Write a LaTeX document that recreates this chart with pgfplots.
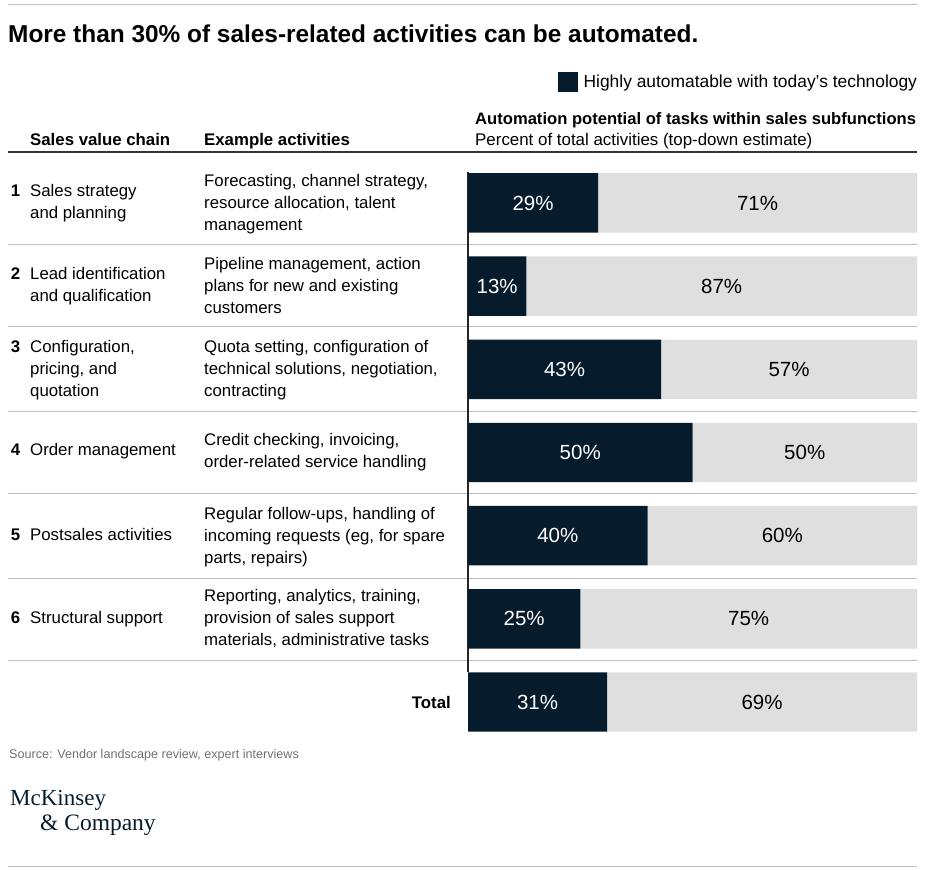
\documentclass[border=0pt]{standalone}
\usepackage{pgfplots}
\pgfplotsset{compat=1.18}
\usepackage{pgfplotstable}
\usepackage{fontspec}
\setmainfont{Liberation Sans}
\newfontfamily\logofont{Liberation Serif}

\definecolor{navy}{HTML}{061C2C}
\definecolor{bargray}{HTML}{DFDFDF}
\definecolor{rulegray}{HTML}{BDBDBD}
\definecolor{srcgray}{HTML}{707070}

% share of activities per subfunction, rows counted from the bottom (0 = total)
\pgfplotstableread{
row auto rest
6 29 71
5 13 87
4 43 57
3 50 50
2 40 60
1 25 75
0 31 69
}\shares

\newcommand{\body}{\fontsize{16.8}{22}\selectfont}
\newcommand{\num}[1]{\makebox[12pt][r]{\bfseries #1}\hspace{10pt}}

\begin{document}
\begin{tikzpicture}
\begin{scope}[x=1pt,y=-1pt]
  \path (0,0) rectangle (927,870);
  \draw[rulegray, line width=1pt] (8,4) -- (917,4);
  \node[anchor=base west, inner sep=0, font=\fontsize{24.4}{28}\selectfont\bfseries]
    at (8,42) {More than 30\% of sales-related activities can be automated.};

  % column heads
  \node[anchor=base west, inner sep=0, font=\body\bfseries] at (30,145) {Sales value chain};
  \node[anchor=base west, inner sep=0, font=\body\bfseries] at (204,145) {Example activities};
  \node[anchor=base west, inner sep=0, font=\fontsize{16.6}{22}\selectfont\bfseries] at (475,124) {Automation potential of tasks within sales subfunctions};
  \node[anchor=base west, inner sep=0, font=\fontsize{16.9}{22}\selectfont] at (475,145) {Percent of total activities (top-down estimate)};
  \draw[black!80, line width=1.5pt] (8,152) -- (917,152);

  % row rules
  \foreach \yy in {244,326,411,493,578,660}
    \draw[rulegray, line width=1pt] (8,\yy) -- (917,\yy);
  \draw[black!85, line width=1.2pt] (468,172) -- (468,672);

  % sales value chain
  \node[anchor=west, inner sep=0, font=\body] at (8,203)
    {\begin{tabular}{@{}l@{}l@{}}\num{1} & Sales strategy\\ & and planning\end{tabular}};
  \node[anchor=west, inner sep=0, font=\body] at (8,286.5)
    {\begin{tabular}{@{}l@{}l@{}}\num{2} & Lead identification\\ & and qualification\end{tabular}};
  \node[anchor=west, inner sep=0, font=\body] at (8,370.5)
    {\begin{tabular}{@{}l@{}l@{}}\num{3} & Configuration,\\ & pricing, and\\ & quotation\end{tabular}};
  \node[anchor=west, inner sep=0, font=\body] at (8,451)
    {\begin{tabular}{@{}l@{}l@{}}\num{4} & Order management\end{tabular}};
  \node[anchor=west, inner sep=0, font=\body] at (8,536.5)
    {\begin{tabular}{@{}l@{}l@{}}\num{5} & Postsales activities\end{tabular}};
  \node[anchor=west, inner sep=0, font=\body] at (8,619)
    {\begin{tabular}{@{}l@{}l@{}}\num{6} & Structural support\end{tabular}};

  % example activities
  \node[anchor=west, inner sep=0, font=\body] at (204,204.5)
    {\begin{tabular}{@{}l@{}}Forecasting, channel strategy,\\ resource allocation, talent\\ management\end{tabular}};
  \node[anchor=west, inner sep=0, font=\body] at (204,287.5)
    {\begin{tabular}{@{}l@{}}Pipeline management, action\\ plans for new and existing\\ customers\end{tabular}};
  \node[anchor=west, inner sep=0, font=\body] at (204,370.5)
    {\begin{tabular}{@{}l@{}}Quota setting, configuration of\\ technical solutions, negotiation,\\ contracting\end{tabular}};
  \node[anchor=west, inner sep=0, font=\body] at (204,452)
    {\begin{tabular}{@{}l@{}}Credit checking, invoicing,\\ order-related service handling\end{tabular}};
  \node[anchor=west, inner sep=0, font=\body] at (204,537)
    {\begin{tabular}{@{}l@{}}Regular follow-ups, handling of\\ incoming requests (eg, for spare\\ parts, repairs)\end{tabular}};
  \node[anchor=west, inner sep=0, font=\body] at (204,619.5)
    {\begin{tabular}{@{}l@{}}Reporting, analytics, training,\\ provision of sales support\\ materials, administrative tasks\end{tabular}};

  \node[anchor=east, inner sep=0, font=\body\bfseries] at (451,702) {Total};

  % footer
  \node[anchor=base west, inner sep=0, font=\fontsize{12.6}{15}\selectfont, text=srcgray]
    at (9,758) {Source: Vendor landscape review, expert interviews};
  \node[anchor=base west, inner sep=0, font=\logofont\fontsize{23}{25}\selectfont, text=navy]
    at (10,805) {McKinsey};
  \node[anchor=base west, inner sep=0, font=\logofont\fontsize{23.5}{25}\selectfont, text=navy]
    at (40,830) {\& Company};
  \draw[rulegray, line width=1pt] (8,866) -- (917,866);
\end{scope}

\begin{axis}[
  at={(468pt,-732pt)}, anchor=south west,
  scale only axis, width=449pt, height=560pt,
  xbar stacked, bar width=0.715,
  xmin=0, xmax=100, ymin=-0.3607, ymax=6.3725,
  hide axis, clip=false,
  point meta=explicit,
  nodes near coords={\pgfmathprintnumber[assume math mode=true]{\pgfplotspointmeta}\%},
  every node near coord/.append style={anchor=center, font=\fontsize{20.5}{22}\selectfont},
  legend style={draw=none, fill=none, at={(1,1.1607)}, anchor=east,
    inner sep=0pt, outer sep=0pt, font=\fontsize{17.4}{22}\selectfont, nodes={inner sep=0pt}},
]
\addplot[fill=navy, draw=none, nodes near coords style={text=white},
  legend image code/.code={\fill[navy] (0pt,-10pt) rectangle (20pt,10pt); \path (26pt,0pt);}]
  table[x=auto, y=row, meta=auto] {\shares};
\addlegendentry{Highly automatable with today’s technology}
\addplot[fill=bargray, draw=none, nodes near coords style={text=black}]
  table[x=rest, y=row, meta=rest] {\shares};
\end{axis}
\end{tikzpicture}
\end{document}
